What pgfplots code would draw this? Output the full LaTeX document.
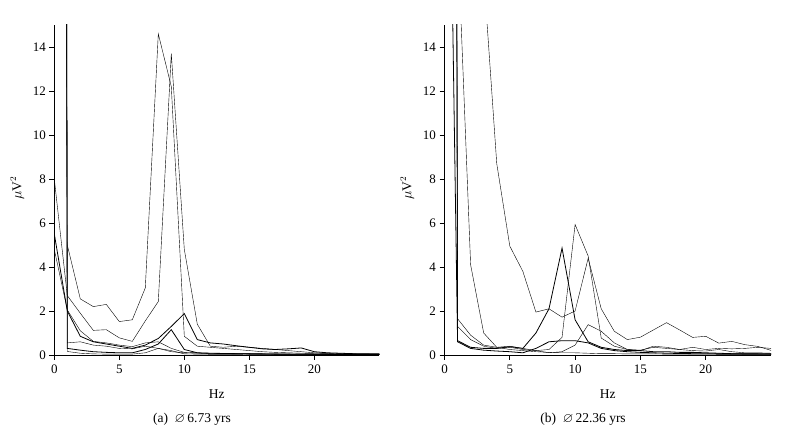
\documentclass[border=0pt]{standalone}
\usepackage{fontspec}
\setmainfont{Liberation Serif}
\usepackage{amssymb}
\usepackage{pgfplots}
\pgfplotsset{compat=1.18}
\pgfplotsset{
  spec/.style={
    scale only axis, height=330bp,
    xmin=0, xmax=25, ymin=0, ymax=15,
    axis x line*=bottom, axis y line*=left,
    axis line style={-, line width=0.75bp},
    xtick={0,5,10,15,20}, ytick={0,2,...,14},
    tick align=outside, major tick length=5bp,
    tick style={black, line width=0.75bp},
    /pgf/number format/assume math mode=true,
    ticklabel style={font=\fontsize{13bp}{15bp}\selectfont},
    xticklabel style={yshift=-1bp},
    xlabel={Hz}, ylabel={$\mu$V$^2$},
    label style={font=\fontsize{13.5bp}{15bp}\selectfont},
    xlabel style={at={(axis description cs:0.5,-0.118)}, anchor=center},
    ylabel style={at={(axis description cs:-0.114,0.506)}, anchor=center},
    cycle list={{black, no markers, line width=0.8bp}},
  }
}
\begin{document}
\begin{tikzpicture}
\path[use as bounding box] (0,0) rectangle (785bp,435bp);
\begin{axis}[spec, width=325bp, at={(54.3bp,80bp)}, anchor=south west]
\addplot coordinates {(0,300)(1,5.0)(2,2.55)(3,2.2)(4,2.3)(5,1.52)(6,1.6)(7,3.05)(8,14.6)(9,12.2)(10,0.85)(11,0.4)(12,0.35)(13,0.3)(14,0.25)(15,0.2)(16,0.15)(17,0.12)(18,0.1)(19,0.08)(20,0.07)(21,0.06)(22,0.05)(23,0.05)(24,0.04)(25,0.04)};
\addplot coordinates {(0,8.0)(1,2.7)(2,1.9)(3,1.12)(4,1.15)(5,0.78)(6,0.62)(7,1.55)(8,2.43)(9,13.7)(10,4.8)(11,1.4)(12,0.4)(13,0.35)(14,0.4)(15,0.35)(16,0.3)(17,0.25)(18,0.2)(19,0.15)(20,0.1)(21,0.08)(22,0.06)(23,0.05)(24,0.05)(25,0.04)};
\addplot coordinates {(0,5.5)(1,2.0)(2,0.85)(3,0.6)(4,0.5)(5,0.4)(6,0.3)(7,0.45)(8,0.75)(9,1.3)(10,1.88)(11,0.7)(12,0.55)(13,0.5)(14,0.42)(15,0.35)(16,0.28)(17,0.25)(18,0.28)(19,0.32)(20,0.15)(21,0.1)(22,0.08)(23,0.06)(24,0.05)(25,0.05)};
\addplot coordinates {(0,4.8)(1,2.05)(2,1.1)(3,0.62)(4,0.55)(5,0.45)(6,0.38)(7,0.55)(8,0.6)(9,0.3)(10,0.12)(11,0.1)(12,0.08)(13,0.07)(14,0.06)(15,0.06)(16,0.05)(17,0.05)(18,0.04)(19,0.04)(20,0.04)(21,0.03)(22,0.03)(23,0.03)(24,0.03)(25,0.03)};
\addplot coordinates {(0,280)(1,0.55)(2,0.6)(3,0.45)(4,0.4)(5,0.3)(6,0.28)(7,0.4)(8,0.3)(9,0.15)(10,0.1)(11,0.08)(12,0.07)(13,0.06)(14,0.06)(15,0.05)(16,0.05)(17,0.04)(18,0.04)(19,0.04)(20,0.03)(21,0.03)(22,0.03)(23,0.02)(24,0.02)(25,0.02)};
\addplot coordinates {(0,300)(1,0.3)(2,0.22)(3,0.15)(4,0.12)(5,0.1)(6,0.1)(7,0.25)(8,0.5)(9,1.15)(10,0.25)(11,0.1)(12,0.08)(13,0.07)(14,0.06)(15,0.05)(16,0.05)(17,0.04)(18,0.04)(19,0.03)(20,0.03)(21,0.03)(22,0.02)(23,0.02)(24,0.02)(25,0.02)};
\addplot coordinates {(0,260)(1,0.16)(2,0.08)(3,0.05)(4,0.04)(5,0.04)(6,0.04)(7,0.1)(8,0.3)(9,0.2)(10,0.05)(11,0.04)(12,0.03)(13,0.03)(14,0.03)(15,0.02)(16,0.02)(17,0.02)(18,0.02)(19,0.02)(20,0.02)(21,0.02)(22,0.02)(23,0.02)(24,0.02)(25,0.02)};
\end{axis}
\begin{axis}[spec, width=326.5bp, at={(444.5bp,80bp)}, anchor=south west]
\addplot coordinates {(0,300)(1,150)(2,60)(3,17.3)(4,8.7)(5,4.95)(6,3.8)(7,1.95)(8,2.1)(9,1.72)(10,2.0)(11,4.4)(12,2.1)(13,1.08)(14,0.7)(15,0.81)(16,1.14)(17,1.47)(18,1.14)(19,0.8)(20,0.85)(21,0.54)(22,0.62)(23,0.47)(24,0.39)(25,0.21)};
\addplot coordinates {(0,290)(1,19.2)(2,4.1)(3,1.0)(4,0.35)(5,0.25)(6,0.2)(7,0.15)(8,0.12)(9,0.1)(10,0.1)(11,0.08)(12,0.06)(13,0.06)(14,0.05)(15,0.05)(16,0.05)(17,0.04)(18,0.04)(19,0.04)(20,0.04)(21,0.03)(22,0.03)(23,0.03)(24,0.03)(25,0.03)};
\addplot coordinates {(0,40)(1,0.65)(2,0.35)(3,0.3)(4,0.3)(5,0.38)(6,0.3)(7,1.0)(8,2.1)(9,4.86)(10,1.6)(11,0.6)(12,0.35)(13,0.25)(14,0.2)(15,0.2)(16,0.15)(17,0.15)(18,0.12)(19,0.12)(20,0.1)(21,0.08)(22,0.06)(23,0.05)(24,0.05)(25,0.04)};
\addplot coordinates {(0,300)(1,1.3)(2,0.7)(3,0.4)(4,0.3)(5,0.35)(6,0.25)(7,0.2)(8,0.25)(9,0.8)(10,5.93)(11,4.5)(12,0.77)(13,0.4)(14,0.25)(15,0.22)(16,0.35)(17,0.3)(18,0.25)(19,0.35)(20,0.25)(21,0.3)(22,0.28)(23,0.3)(24,0.35)(25,0.3)};
\addplot coordinates {(0,270)(1,1.65)(2,0.9)(3,0.45)(4,0.35)(5,0.4)(6,0.3)(7,0.2)(8,0.1)(9,0.15)(10,0.45)(11,1.38)(12,1.08)(13,0.55)(14,0.25)(15,0.2)(16,0.4)(17,0.35)(18,0.25)(19,0.2)(20,0.18)(21,0.25)(22,0.15)(23,0.1)(24,0.1)(25,0.08)};
\addplot coordinates {(0,250)(1,0.6)(2,0.3)(3,0.22)(4,0.18)(5,0.15)(6,0.1)(7,0.3)(8,0.6)(9,0.65)(10,0.65)(11,0.55)(12,0.3)(13,0.2)(14,0.15)(15,0.12)(16,0.1)(17,0.08)(18,0.07)(19,0.06)(20,0.06)(21,0.05)(22,0.05)(23,0.05)(24,0.05)(25,0.05)};
\end{axis}
\node[font=\fontsize{13.5bp}{15bp}\selectfont] at (192bp,16bp) {(a)\enspace$\varnothing$\,6.73 yrs};
\node[font=\fontsize{13.5bp}{15bp}\selectfont] at (583bp,16bp) {(b)\enspace$\varnothing$\,22.36 yrs};
\end{tikzpicture}
\end{document}
